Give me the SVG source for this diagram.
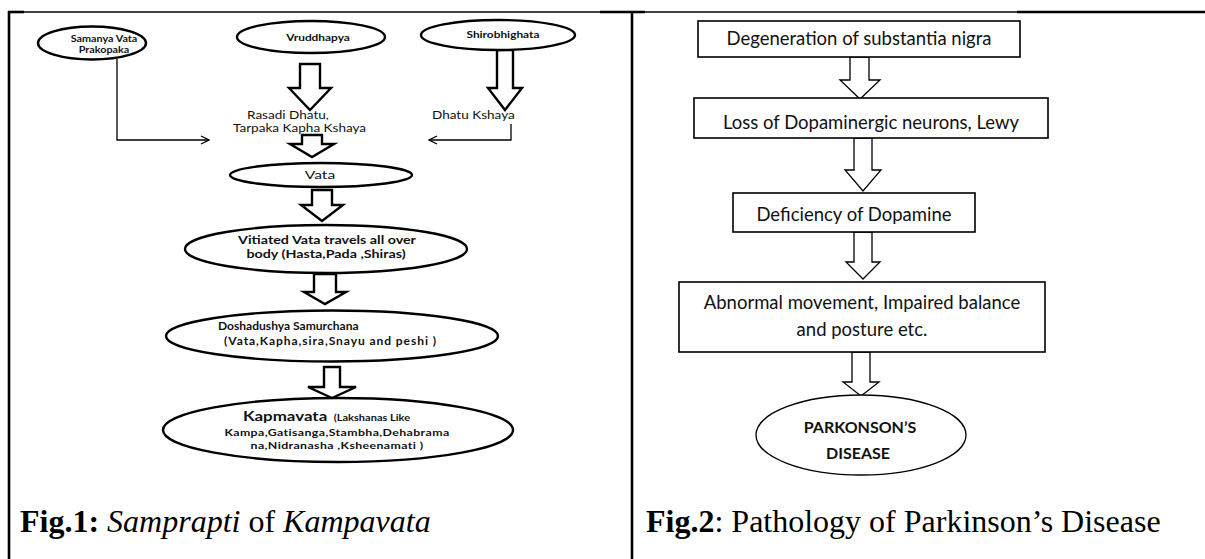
<svg xmlns="http://www.w3.org/2000/svg" width="1205" height="559" viewBox="0 0 1205 559">
<defs>
<style>
.frame{stroke:#000;fill:none}
.ell{fill:#fff;stroke:#000;stroke-width:2.4}
.blk{fill:#fff;stroke:#000;stroke-width:2.4;stroke-linejoin:miter}
.rbox{fill:#fff;stroke:#000;stroke-width:1.6}
.rell{fill:#fff;stroke:#000;stroke-width:1.3}
.rblk{fill:#fff;stroke:#000;stroke-width:1.3}
.con{fill:none;stroke:#000;stroke-width:1.3}
.sb{font-family:Lato,"Liberation Sans",sans-serif;font-weight:700;fill:#111}
.sr{font-family:Lato,"Liberation Sans",sans-serif;font-weight:400;fill:#111}
.rt{font-family:Lato,"Liberation Sans",sans-serif;font-weight:400;font-size:18.5px;fill:#111;text-anchor:middle}
.cap{font-family:"Liberation Serif","Times New Roman",serif;font-size:32px;fill:#000}
</style>
<marker id="ah" markerWidth="10" markerHeight="10" refX="9" refY="5" orient="auto" markerUnits="userSpaceOnUse">
<path d="M1,1 L9,5 L1,9" fill="none" stroke="#000" stroke-width="1.3"/>
</marker>
</defs>
<rect width="1205" height="559" fill="#fff"/>
<g id="frame">
<line class="frame" x1="8" y1="12" x2="1205" y2="12" stroke-width="1.4"/>
<line class="frame" x1="8" y1="12" x2="24" y2="12" stroke-width="2.6"/>
<line class="frame" x1="600" y1="12" x2="645" y2="12" stroke-width="2.6"/>
<line class="frame" x1="1017" y1="12" x2="1205" y2="12" stroke-width="2.6"/>
<line class="frame" x1="9" y1="11" x2="9" y2="559" stroke-width="2.6"/>
<line class="frame" x1="632" y1="11" x2="632" y2="559" stroke-width="2.6"/>
</g>
<g id="connectors">
<polyline class="con" points="117,59 117,140 209,140" marker-end="url(#ah)"/>
<polyline class="con" points="511,124 511,140 429,140" marker-end="url(#ah)"/>
<polygon class="blk" points="300,64 320,64 320,88 331,88 310,110 289,88 300,88"/>
<polygon class="blk" points="497,50 513,50 513,88 522,88 505,110 488,88 497,88"/>
<polygon class="blk" points="302,135 322,135 322,144 334,144 312,157 290,144 302,144"/>
<polygon class="blk" points="312,190 332,190 332,205 343,205 322,221 301,205 312,205"/>
<polygon class="blk" points="314,274 336,274 336,292 346,292 325,304 304,292 314,292"/>
<polygon class="blk" points="324,367 340,367 340,387 356,387 332,398 308,387 324,387"/>
<polygon class="rblk" points="850,57 869,57 869,80 880,80 860,99 840,80 850,80"/>
<polygon class="rblk" points="854,138 872,138 872,170 881,170 863,191 845,170 854,170"/>
<polygon class="rblk" points="854,232 872,232 872,262 880,262 863,279 846,262 854,262"/>
<polygon class="rblk" points="852,352 870,352 870,382 879,382 861,396 843,382 852,382"/>
</g>
<g id="n-samanya">
<ellipse class="ell" cx="92" cy="43" rx="54" ry="16.5"/>
<text class="sb" font-size="9" text-anchor="middle" x="104" y="42" transform="matrix(1.2,0,0,1,-20.8,0)">Samanya Vata</text>
<text class="sb" font-size="9" text-anchor="middle" x="104" y="53" transform="matrix(1.2,0,0,1,-20.8,0)">Prakopaka</text>
</g>
<g id="n-vruddhapya">
<ellipse class="ell" cx="311" cy="37" rx="74" ry="16"/>
<text class="sb" font-size="9.5" text-anchor="middle" x="318" y="41" transform="matrix(1.25,0,0,1,-79.5,0)">Vruddhapya</text>
</g>
<g id="n-shirobhighata">
<ellipse class="ell" cx="498" cy="35" rx="77" ry="15"/>
<text class="sb" font-size="9.5" text-anchor="middle" x="503" y="38" transform="matrix(1.25,0,0,1,-125.75,0)">Shirobhighata</text>
</g>
<g id="n-rasadi">
<text class="sr" font-size="11.5" x="247" y="119" transform="matrix(1.18,0,0,1,-44.46,0)">Rasadi Dhatu,</text>
<text class="sr" font-size="11.5" x="233" y="132" transform="matrix(1.18,0,0,1,-41.94,0)">Tarpaka Kapha Kshaya</text>
</g>
<g id="n-dhatu">
<text class="sr" font-size="11.5" x="432" y="119" transform="matrix(1.18,0,0,1,-77.76,0)">Dhatu Kshaya</text>
</g>
<g id="n-vata">
<ellipse class="ell" cx="321" cy="175" rx="91" ry="12"/>
<text class="sr" font-size="12" text-anchor="middle" x="320" y="179" transform="matrix(1.3,0,0,1,-96,0)">Vata</text>
</g>
<g id="n-vitiated">
<ellipse class="ell" cx="326" cy="249" rx="141" ry="24"/>
<text class="sb" font-size="11" text-anchor="middle" x="327" y="244" transform="matrix(1.3,0,0,1,-98.1,0)">Vitiated Vata travels all over</text>
<text class="sb" font-size="11" text-anchor="middle" x="326" y="258" transform="matrix(1.3,0,0,1,-97.8,0)">body (Hasta,Pada ,Shiras)</text>
</g>
<g id="n-dosha">
<ellipse class="ell" cx="332" cy="336" rx="166" ry="25.5"/>
<text class="sb" font-size="10.5" x="218" y="330" transform="matrix(1.15,0,0,1,-32.7,0)">Doshadushya Samurchana</text>
<text class="sb" font-size="10.5" letter-spacing="0.8" x="224" y="345" transform="matrix(1.15,0,0,1,-33.6,0)">(Vata,Kapha,sira,Snayu and peshi )</text>
</g>
<g id="n-kapmavata">
<ellipse class="ell" cx="338" cy="430" rx="175" ry="32"/>
<text class="sb" x="243" y="421" transform="matrix(1.3,0,0,1,-72.9,0)"><tspan font-size="13">Kapmavata</tspan><tspan font-size="8.5" dx="5">(Lakshanas Like</tspan></text>
<text class="sb" font-size="9.5" letter-spacing="0.3" text-anchor="middle" x="337" y="436" transform="matrix(1.3,0,0,1,-101.1,0)">Kampa,Gatisanga,Stambha,Dehabrama</text>
<text class="sb" font-size="9.5" letter-spacing="0.3" text-anchor="middle" x="337" y="449" transform="matrix(1.3,0,0,1,-101.1,0)">na,Nidranasha ,Ksheenamati )</text>
</g>
<g id="caption1">
<text class="cap" x="20" y="532"><tspan font-weight="700">Fig.1:</tspan> <tspan font-style="italic">Samprapti</tspan> of <tspan font-style="italic">Kampavata</tspan></text>
</g>
<g id="n-degeneration">
<rect class="rbox" x="698" y="21" width="322" height="36"/>
<text class="rt" x="859" y="45">Degeneration of substantia nigra</text>
</g>
<g id="n-loss">
<rect class="rbox" x="694" y="98" width="354" height="40"/>
<text class="rt" x="871" y="129">Loss of Dopaminergic neurons, Lewy</text>
</g>
<g id="n-deficiency">
<rect class="rbox" x="733" y="193" width="242" height="39"/>
<text class="rt" x="854" y="221">Deficiency of Dopamine</text>
</g>
<g id="n-abnormal">
<rect class="rbox" x="679" y="282" width="366" height="70"/>
<text class="rt" x="862" y="309">Abnormal movement, Impaired balance</text>
<text class="rt" x="862" y="336">and posture etc.</text>
</g>
<g id="n-parkinsons">
<ellipse class="rell" cx="861" cy="435" rx="105" ry="40"/>
<text class="sb" font-size="16" text-anchor="middle" x="860" y="433">PARKONSON’S</text>
<text class="sb" font-size="16" text-anchor="middle" x="858" y="459">DISEASE</text>
</g>
<g id="caption2">
<text class="cap" x="646" y="532"><tspan font-weight="700">Fig.2</tspan>: Pathology of Parkinson’s Disease</text>
</g>
</svg>
